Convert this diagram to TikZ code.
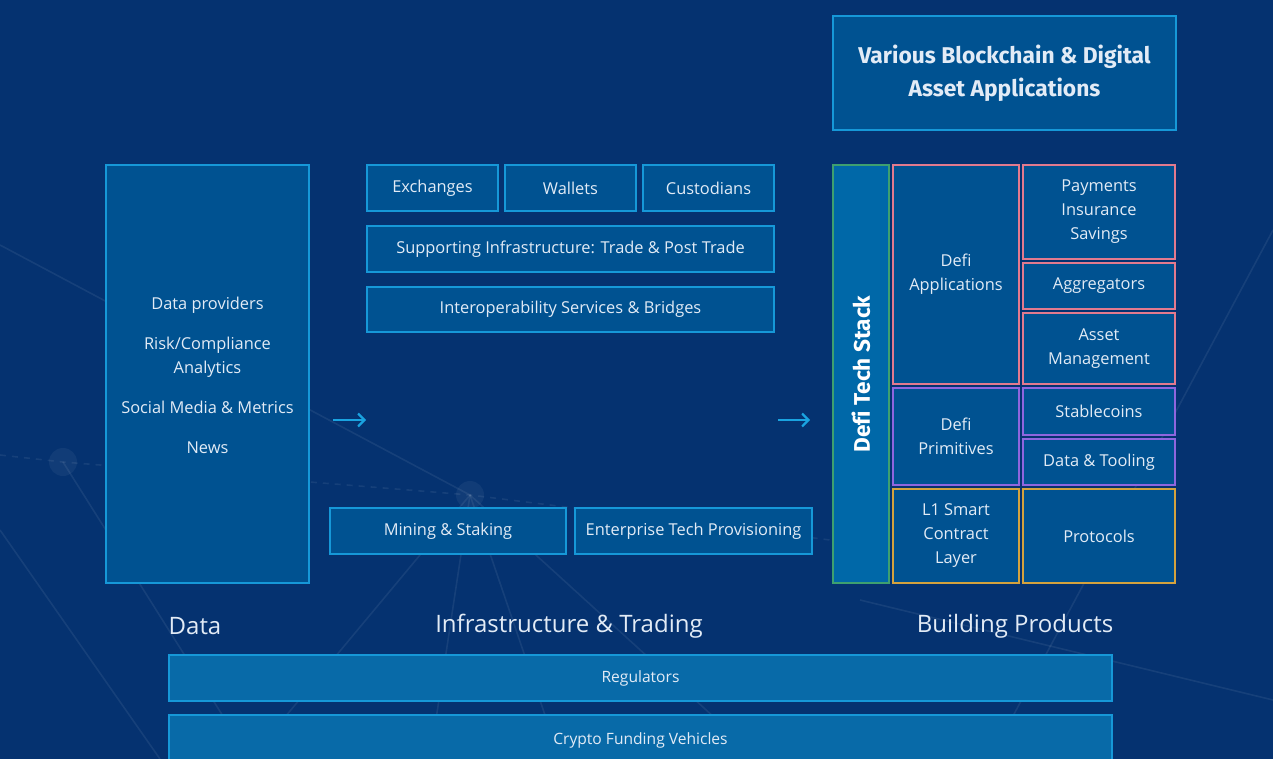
\documentclass[tikz,border=0pt]{standalone}
\usepackage{fontspec}
\setmainfont{Open Sans}[Ligatures=NoCommon]
\newfontfamily\headfont{Fira Sans}[Ligatures=NoCommon]
\usetikzlibrary{arrows.meta}
\definecolor{bgnavy}{RGB}{5, 50, 112}
\definecolor{cellfill}{RGB}{0, 82, 145}
\definecolor{cellline}{RGB}{22, 152, 216}
\definecolor{barfill}{RGB}{0, 104, 168}
\definecolor{barline}{RGB}{62, 160, 112}
\definecolor{bandfill}{RGB}{8, 106, 168}
\definecolor{appline}{RGB}{226, 122, 142}
\definecolor{primline}{RGB}{142, 102, 222}
\definecolor{layerline}{RGB}{212, 162, 62}
\definecolor{arrowcyan}{RGB}{26, 163, 224}
\definecolor{txtwhite}{RGB}{226, 235, 246}

\begin{document}
\begin{tikzpicture}[x=0.5pt, y=-0.5pt,
    cell/.style={draw=cellline, fill=cellfill, line width=0.7pt,
                 text=txtwhite, font=\fontsize{8.2}{12}\selectfont,
                 align=center, inner sep=0pt, anchor=center},
    app/.style={cell, draw=appline},
    prim/.style={cell, draw=primline},
    layer/.style={cell, draw=layerline},
    band/.style={cell, fill=bandfill, font=\fontsize{7.8}{10}\selectfont},
    colhead/.style={text=txtwhite, font=\fontsize{12}{14}\selectfont, anchor=center},
    flow/.style={arrowcyan, line width=1.1pt, -{Straight Barb[length=3.2pt, width=6.5pt]}},
    net/.style={white, opacity=0.07, line width=0.8pt},
  ]
  % background
  \fill[bgnavy] (0,0) rectangle (1273,759);
  \useasboundingbox (0,0) rectangle (1273,759);

  %% faint network behind the diagram
  \draw[net] (0,245) -- (470,495) -- (430,759);
  \draw[net] (470,495) -- (560,759);
  \draw[net] (470,495) -- (250,759);
  \draw[net] (470,495) -- (760,759);
  \draw[net, dashed] (0,455) -- (63,462) -- (470,495) -- (870,545);
  \draw[net] (63,462) -- (250,759);
  \draw[net] (0,530) -- (160,759);
  \draw[net] (1273,230) -- (990,759);
  \draw[net] (860,600) -- (1273,700);
  \foreach \p in {(63,462),(470,495),(250,750),(990,750)}
    \fill[white, opacity=0.05] \p circle (14);

  %% top heading box
  \node[cell, minimum width=171.5pt, minimum height=57pt,
        font=\headfont\bfseries\fontsize{11.4}{16.5}\selectfont]
    (various) at (1004.5,73) {Various Blockchain \& Digital\\Asset Applications};

  %% data column
  \node[cell, minimum width=101.5pt, minimum height=209pt] (data) at (207.5,374) {};
  \node[text=txtwhite, font=\fontsize{8.2}{12}\selectfont, align=center] (datalist) at (207.5,375)
    {Data providers\\[8pt]Risk/Compliance\\Analytics\\[8pt]Social Media \& Metrics\\[8pt]News};

  %% infrastructure & trading
  \node[cell, minimum width=65.5pt, minimum height=23pt] (exch) at (432.5,188) {Exchanges};
  \node[cell, minimum width=65.5pt, minimum height=23pt] (wall) at (570.5,188) {Wallets};
  \node[cell, minimum width=65.5pt, minimum height=23pt] (cust) at (708.5,188) {Custodians};
  \node[cell, minimum width=203.5pt, minimum height=23pt] (supp) at (570.5,249)
    {Supporting Infrastructure: Trade \& Post Trade};
  \node[cell, minimum width=203.5pt, minimum height=22.5pt] (interop) at (570.5,309.5)
    {Interoperability Services \& Bridges};
  \node[cell, minimum width=118pt, minimum height=23pt] (mining) at (448,531) {Mining \& Staking};
  \node[cell, minimum width=118.5pt, minimum height=23pt] (enterp) at (693.5,531)
    {Enterprise Tech Provisioning};

  %% defi tech stack
  \node[cell, fill=barfill, draw=barline, minimum width=28pt, minimum height=209pt] (stack) at (861,374) {};
  \node[rotate=90, text=white, font=\headfont\bfseries\fontsize{11.3}{12}\selectfont]
    (stacklbl) at (861,374) {Defi Tech Stack};
  \node[app, minimum width=63pt, minimum height=109.5pt] (apps) at (956,274.5) {Defi\\Applications};
  \node[app, minimum width=76pt, minimum height=47pt] (pay) at (1099,212) {Payments\\Insurance\\Savings};
  \node[app, minimum width=76pt, minimum height=23pt] (aggr) at (1099,286) {Aggregators};
  \node[app, minimum width=76pt, minimum height=35.5pt] (asset) at (1099,348.5) {Asset\\Management};
  \node[prim, minimum width=63pt, minimum height=48.5pt] (prims) at (956,436.5) {Defi\\Primitives};
  \node[prim, minimum width=76pt, minimum height=23.5pt] (stable) at (1099,411.5) {Stablecoins};
  \node[prim, minimum width=76pt, minimum height=23pt] (tooling) at (1099,462) {Data \& Tooling};
  \node[layer, minimum width=63pt, minimum height=47pt] (lone) at (956,536) {L1 Smart\\Contract\\Layer};
  \node[layer, minimum width=76pt, minimum height=47pt] (protos) at (1099,536) {Protocols};

  %% flow arrows
  \coordinate (f1a) at (333,420);
  \coordinate (f1b) at (366,420);
  \coordinate (f2a) at (778,420);
  \coordinate (f2b) at (810,420);
  \draw[flow] (f1a) -- (f1b);
  \draw[flow] (f2a) -- (f2b);

  %% column headings
  \node[colhead] (hdata) at (195,626) {Data};
  \node[colhead] (hinfra) at (569,626) {Infrastructure \& Trading};
  \node[colhead] (hbuild) at (1015,626) {Building Products};

  %% bands across the bottom
  \node[band, minimum width=471.5pt, minimum height=23pt] (regs) at (640.5,678) {\raisebox{-1pt}{Regulators}};
  \node[band, minimum width=471.5pt, minimum height=25pt] (funds) at (640.5,740)
    {\raisebox{1.5pt}{Crypto Funding Vehicles}};
\end{tikzpicture}
\end{document}
